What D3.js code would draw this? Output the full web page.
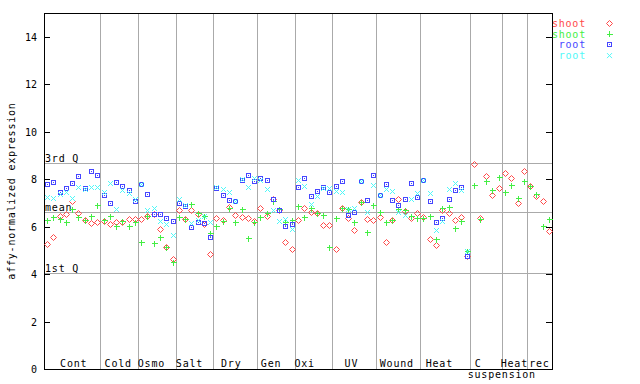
<!DOCTYPE html>
<html>
<head>
<meta charset="utf-8">
<title></title>
<script src="https://cdn.jsdelivr.net/npm/d3@7"></script>
<style>
  body { margin: 0; background: #fff; }
  text { font-family: "DejaVu Sans Mono", monospace; font-size: 10px; fill: #000; }
  .xlab, .ylab-title, .ref { letter-spacing: 0.8px; }
  .grid { stroke: #aaaaaa; stroke-width: 1px; shape-rendering: crispEdges; }
  .frame { stroke: #000; stroke-width: 1px; fill: none; shape-rendering: crispEdges; }
</style>
</head>
<body>
<svg id="chart" width="640" height="384"></svg>
<script>
// sample groups along the x axis
var groups = ["Cont", "Cold", "Osmo", "Salt", "Dry", "Gen", "Oxi", "UV", "Wound", "Heat", "C suspension", "Heat", "rec"];
var groupSizes = [9, 6, 6, 6, 7, 6, 6, 7, 7, 8, 5, 4, 4];

// expression values per sample (81 samples); root has no values for the last 13
var shootRed = [5.27, 5.55, 6.45, 6.53, 7.09, 6.59, 6.28, 6.17, 6.21,
  6.24, 6.11, 6.2, 6.21, 6.31, 6.31,
  6.33, 6.45, 6.53, 5.88, 5.15, 4.63,
  6.69, 6.31, 6.69, 6.52, 6.1, 4.84,
  6.35, 6.26, 6.81, 6.47, 6.39, 6.35, 6.22,
  6.77, 6.43, 7.15, 6.69, 5.34, 5.04,
  6.26, 6.77, 6.6, 6.56, 6.05, 6.05,
  5.04, 6.77, 6.35, 5.84, 7.02, 6.31, 6.26,
  6.41, 5.34, 6.26, 7.15, 6.64, 6.35, 6.56,
  6.39, 5.46, 5.21, 6.69, 6.56, 6.26, 6.39, 4.75,
  8.62, 6.35, 8.12, 7.32, 7.61,
  8.24, 8.03, 6.98, 8.33,
  7.7, 7.28, 7.06, 5.8];
var shootGreen = [6.28, 6.39, 6.33, 6.19, 6.73, 6.39, 6.28, 6.45, 6.91,
  6.28, 6.45, 6.03, 6.24, 6.04, 6.21,
  5.34, 6.45, 5.29, 5.55, 5.15, 4.49,
  6.4, 6.31, 6.94, 6.56, 6.44, 5.72,
  6.01, 6.22, 6.79, 6.18, 6.73, 5.51, 6.18,
  6.39, 6.56, 7.07, 6.75, 6.2, 6.26,
  6.85, 6.39, 6.79, 6.56, 6.47, 5.13,
  6.35, 6.77, 6.73, 6.18, 7.02, 5.76, 6.9,
  6.6, 6.18, 6.26, 6.73, 6.69, 6.43, 6.35,
  6.35, 6.43, 5.46, 6.77, 6.81, 5.93, 6.22, 4.96,
  7.74, 6.31, 7.91, 7.53, 8.08,
  7.44, 7.74, 7.19, 7.91,
  7.7, 7.36, 6.01, 6.31];
var rootBlue = [7.79, 7.87, 7.45, 7.61, 7.82, 8.13, 7.61, 8.34, 8.17,
  7.33, 6.99, 7.87, 7.71, 7.53, 7.08,
  7.78, 7.37, 6.53, 6.53, 6.35, 6.24,
  6.98, 6.85, 5.97, 6.2, 6.14, 5.55,
  7.64, 7.32, 7.11, 7.06, 7.95, 8.16, 7.91,
  8.03, 7.95, 7.15, 6.69, 6.01, 6.1,
  7.65, 8.03, 7.28, 7.49, 7.65, 7.44,
  7.7, 7.91, 6.47, 6.6, 7.91, 7.11, 8.16,
  7.32, 7.78, 7.11, 6.9, 7.15, 7.82, 7.23,
  7.95, 7.06, 6.18, 6.35, 7.15, 7.53, 7.65, 4.75,
  null, null, null, null, null, null, null, null, null, null, null, null, null];
var rootCyan = [7.26, 7.19, 7.38, 7.44, 7.19, 7.65, 7.57, 7.65, 7.65,
  7.44, 7.85, 6.75, 7.54, 7.4, 7.15,
  7.78, 6.7, 6.78, 6.24, 6.1, 5.65,
  7.17, 6.92, 6.14, 6.27, 6.45, 6.2,
  7.67, 7.57, 7.44, 7.06, 7.99, 7.65, 8.03,
  7.95, 7.57, 6.69, 6.24, 6.31, 5.88,
  7.95, 7.7, 6.95, 7.28, 7.61, 7.61,
  7.49, 7.44, 6.73, 6.77, 7.91, 6.6, 7.74,
  7.32, 7.57, 7.49, 6.62, 6.5, 7.15, 7.42,
  7.95, 7.4, 5.84, 6.22, 7.57, 7.82, 7.53, 4.96,
  null, null, null, null, null, null, null, null, null, null, null, null, null];

var yTicks = [0, 2, 4, 6, 8, 10, 12, 14];
var refNames = ["3rd Q", "mean", "1st Q"];
var refValues = [8.68, 6.61, 4.06];
var seriesNames = ["shoot", "shoot", "root", "root"];

var series = [
  { values: shootRed, color: "#ff4848", shape: "diamond" },
  { values: shootGreen, color: "#44ee44", shape: "plus" },
  { values: rootBlue, color: "#4646ff", shape: "square" },
  { values: rootCyan, color: "#50f8f8", shape: "cross" }
];
// nudge of each group label from the group centre (as drawn in the original)
var labelShift = [1.5, -1, -5.5, -5, -4, -5, -9, -3, -1.5, -6, -8, 0, 0];

var nSamples = d3.sum(groupSizes);
var plotLeft = 44, plotRight = 552, plotTop = 13, plotBottom = 369;

var x = d3.scaleLinear().domain([-0.5, nSamples - 0.5]).range([plotLeft, plotRight]);
var y = d3.scaleLinear().domain([0, 15]).range([plotBottom, plotTop]);

var svg = d3.select('#chart');
function px(v) { return Math.round(v) + 0.5; }

// group boundaries
var starts = [], acc = 0;
groupSizes.forEach(function (n) { starts.push(acc); acc += n; });

svg.append('g').selectAll('line')
  .data(starts.slice(1)).enter().append('line')
    .attr('class', 'grid')
    .attr('x1', function (d) { return px(x(d - 0.5)); })
    .attr('x2', function (d) { return px(x(d - 0.5)); })
    .attr('y1', plotTop).attr('y2', plotBottom);

// reference lines
svg.append('g').selectAll('line')
  .data(refValues).enter().append('line')
    .attr('class', 'grid')
    .attr('x1', plotLeft).attr('x2', plotRight)
    .attr('y1', function (d) { return px(y(d)); })
    .attr('y2', function (d) { return px(y(d)); });

svg.append('g').selectAll('text')
  .data(refValues).enter().append('text')
    .attr('class', 'ref')
    .attr('x', plotLeft + 1)
    .attr('y', function (d) { return Math.round(y(d)) - 1; })
    .text(function (d, i) { return refNames[i]; });

// frame and ticks
svg.append('rect').attr('class', 'frame')
  .attr('x', plotLeft + 0.5).attr('y', plotTop + 0.5)
  .attr('width', plotRight - plotLeft).attr('height', plotBottom - plotTop);

var ticks = svg.append('g');
ticks.selectAll('.lt').data(yTicks).enter().append('line')
  .attr('class', 'frame lt')
  .attr('x1', plotLeft).attr('x2', plotLeft + 6)
  .attr('y1', function (d) { return px(y(d)); })
  .attr('y2', function (d) { return px(y(d)); });
ticks.selectAll('.rt').data(yTicks).enter().append('line')
  .attr('class', 'frame rt')
  .attr('x1', plotRight - 6).attr('x2', plotRight)
  .attr('y1', function (d) { return px(y(d)); })
  .attr('y2', function (d) { return px(y(d)); });
ticks.selectAll('text').data(yTicks).enter().append('text')
  .attr('x', 37)
  .attr('y', function (d) { return y(d) + 4; })
  .style('text-anchor', 'end')
  .text(function (d) { return d; });

svg.append('text')
  .attr('class', 'ylab-title')
  .attr('transform', 'translate(15,191) rotate(-90)')
  .style('text-anchor', 'middle')
  .text('affy-normalized expression');

// group labels
var glab = svg.append('g');
groups.forEach(function (name, i) {
  var c = (x(starts[i] - 0.5) + x(starts[i] + groupSizes[i] - 0.5)) / 2 + labelShift[i];
  var words = name.split(' ');
  glab.append('text').attr('class', 'xlab')
    .attr('x', c).attr('y', 367)
    .style('text-anchor', 'middle')
    .text(words[0]);
  if (words.length > 1) {
    glab.append('text').attr('class', 'xlab')
      .attr('x', x(starts[i] + groupSizes[i] - 0.5)).attr('y', 378)
      .style('text-anchor', 'middle')
      .text(words.slice(1).join(' '));
  }
});

// marker shapes
function marker(sel, shape, color) {
  if (shape === 'square') {
    sel.append('rect').attr('x', -2).attr('y', -2).attr('width', 4).attr('height', 4)
      .attr('fill', 'none').attr('stroke', color).attr('shape-rendering', 'crispEdges');
    sel.append('rect').attr('x', -0.5).attr('y', -0.5).attr('width', 1).attr('height', 1)
      .attr('fill', color).attr('shape-rendering', 'crispEdges');
  } else {
    var p = {
      diamond: 'M0,-3L3,0L0,3L-3,0Z',
      plus: 'M-3,0H3M0,-3V3',
      cross: 'M-2.5,-2.5L2.5,2.5M2.5,-2.5L-2.5,2.5'
    }[shape];
    sel.append('path').attr('d', p).attr('fill', 'none').attr('stroke', color)
      .attr('shape-rendering', shape === 'plus' ? 'crispEdges' : null);
  }
}

series.forEach(function (s) {
  var pts = s.values.map(function (v, i) { return { i: i, v: v }; })
    .filter(function (d) { return d.v !== null; });
  svg.append('g').selectAll('g')
    .data(pts).enter().append('g')
      .attr('transform', function (d) {
        return 'translate(' + px(x(d.i)) + ',' + px(y(d.v)) + ')';
      })
      .each(function () { marker(d3.select(this), s.shape, s.color); });
});

// legend
var legend = svg.append('g').selectAll('g')
  .data(series).enter().append('g')
    .attr('transform', function (d, i) { return 'translate(0,' + (27 + i * 10.7) + ')'; });
legend.append('text')
  .attr('x', 586).attr('y', 0)
  .attr('class', 'xlab')
  .style('text-anchor', 'end')
  .style('fill', function (d) { return d.color; })
  .text(function (d, i) { return seriesNames[i]; });
legend.append('g')
  .attr('transform', 'translate(609.5,-3.5)')
  .each(function (d) { marker(d3.select(this), d.shape, d.color); });
</script>
</body>
</html>
